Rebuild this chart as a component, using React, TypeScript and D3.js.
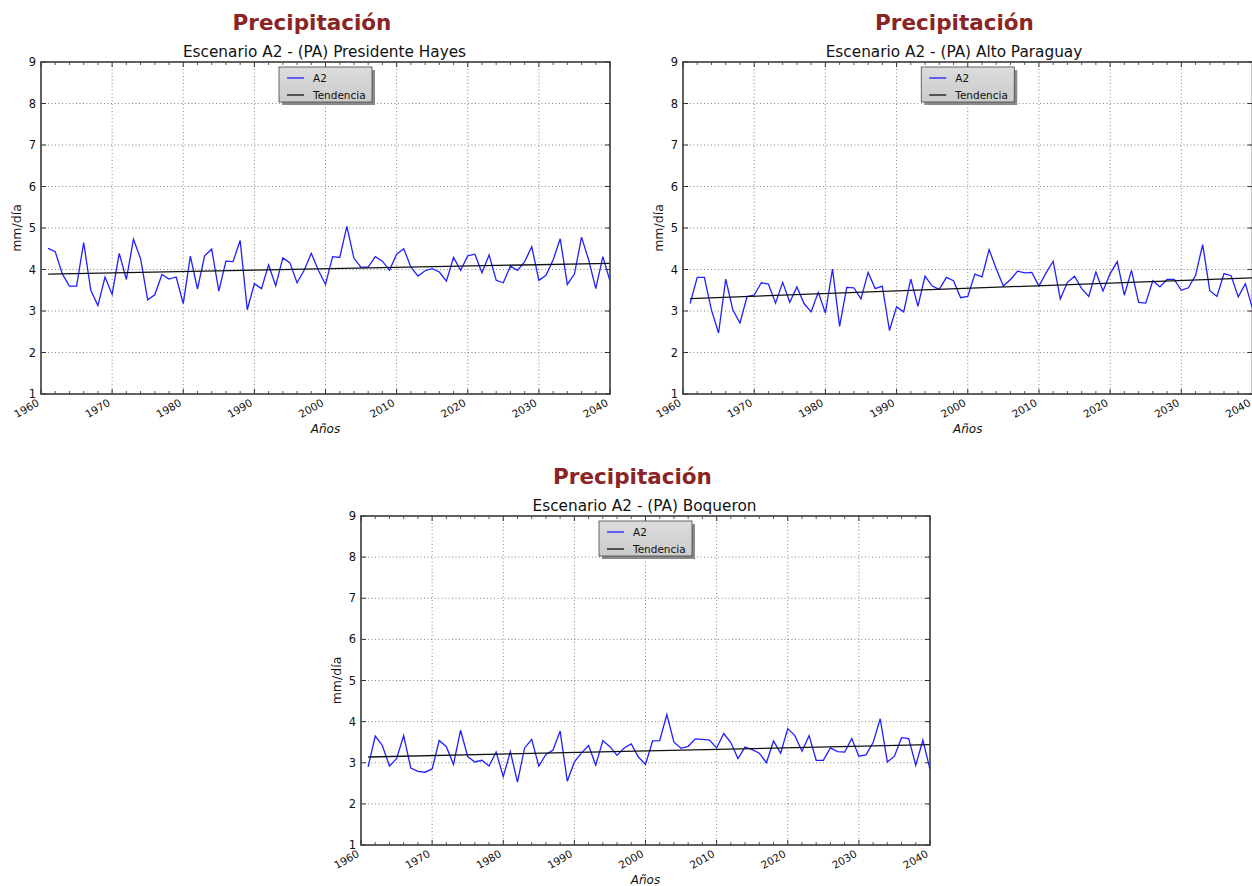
import React from "react";
import * as d3 from "d3";

const YEARS: number[] = d3.range(1961, 2041);
const X_TICKS = [1960, 1970, 1980, 1990, 2000, 2010, 2020, 2030, 2040];
const Y_TICKS = [1, 2, 3, 4, 5, 6, 7, 8, 9];

const hayes = [
  4.51, 4.43, 3.89, 3.6, 3.6, 4.65, 3.5, 3.13, 3.82, 3.4,
  4.39, 3.76, 4.73, 4.26, 3.27, 3.39, 3.88, 3.77, 3.82, 3.18,
  4.32, 3.53, 4.33, 4.49, 3.48, 4.2, 4.19, 4.7, 3.03, 3.66,
  3.54, 4.11, 3.61, 4.28, 4.16, 3.68, 3.98, 4.39, 3.98, 3.64,
  4.31, 4.29, 5.04, 4.27, 4.05, 4.06, 4.31, 4.2, 3.98, 4.37,
  4.5, 4.06, 3.84, 3.97, 4.02, 3.94, 3.72, 4.29, 3.98, 4.33,
  4.37, 3.92, 4.35, 3.74, 3.68, 4.08, 3.98, 4.19, 4.55, 3.74,
  3.86, 4.23, 4.74, 3.64, 3.89, 4.78, 4.23, 3.54, 4.31, 3.72,
];
const hayesTrend = [3.89, 4.15];

const altoParaguay = [
  3.18, 3.81, 3.81, 3.02, 2.47, 3.77, 3.03, 2.71, 3.35, 3.38,
  3.68, 3.65, 3.19, 3.69, 3.21, 3.58, 3.18, 2.98, 3.45, 2.95,
  4.01, 2.63, 3.57, 3.56, 3.29, 3.93, 3.54, 3.6, 2.53, 3.1,
  2.98, 3.77, 3.11, 3.84, 3.6, 3.52, 3.81, 3.73, 3.32, 3.35,
  3.89, 3.82, 4.48, 4.02, 3.6, 3.76, 3.96, 3.92, 3.93, 3.6,
  3.92, 4.2, 3.29, 3.69, 3.84, 3.54, 3.35, 3.94, 3.48, 3.9,
  4.19, 3.38, 3.98, 3.21, 3.19, 3.73, 3.58, 3.76, 3.76, 3.5,
  3.56, 3.86, 4.6, 3.49, 3.35, 3.9, 3.85, 3.34, 3.66, 3.06,
];
const altoParaguayTrend = [3.3, 3.8];

const boqueron = [
  2.9, 3.65, 3.42, 2.92, 3.1, 3.66, 2.87, 2.79, 2.77, 2.85,
  3.54, 3.39, 2.96, 3.79, 3.15, 3.02, 3.06, 2.92, 3.26, 2.66,
  3.27, 2.53, 3.36, 3.57, 2.92, 3.2, 3.31, 3.77, 2.55, 3.02,
  3.24, 3.42, 2.94, 3.54, 3.39, 3.18, 3.36, 3.46, 3.14, 2.96,
  3.53, 3.54, 4.17, 3.5, 3.35, 3.4, 3.58, 3.57, 3.55, 3.36,
  3.71, 3.49, 3.1, 3.38, 3.32, 3.23, 3.0, 3.53, 3.23, 3.83,
  3.66, 3.28, 3.66, 3.06, 3.06, 3.36, 3.27, 3.26, 3.59, 3.16,
  3.19, 3.49, 4.07, 3.02, 3.16, 3.61, 3.59, 2.94, 3.55, 2.84,
];
const boqueronTrend = [3.14, 3.44];

const TITLE = "Precipitación";
const SUB_FONT = "'DejaVu Sans', sans-serif";

type PanelProps = {
  left: number;
  right: number;
  top: number;
  bottom: number;
  titleX: number;
  subX: number;
  subtitle: string;
  values: number[];
  trend: number[];
  id: string;
};

function Panel(p: PanelProps) {
  const x = d3.scaleLinear().domain([1960, 2040]).range([p.left, p.right]);
  const y = d3.scaleLinear().domain([1, 9]).range([p.bottom, p.top]);
  const line = d3
    .line<number>()
    .x((_, i) => x(YEARS[i]))
    .y((v) => y(v));
  const trendLine = d3
    .line<number>()
    .x((_, i) => x(i === 0 ? YEARS[0] : YEARS[YEARS.length - 1]))
    .y((v) => y(v));
  const minor = d3.range(1960, 2041, 2).filter((v) => v % 10 !== 0);
  const cx = (p.left + p.right) / 2;
  const cy = (p.top + p.bottom) / 2;
  const lgW = 93;
  const lgH = 35;
  const lgX = cx - lgW / 2;
  const lgY = p.top + 5;
  return (
    <g>
      <defs>
        <clipPath id={"clip" + p.id}>
          <rect x={p.left} y={p.top} width={p.right - p.left} height={p.bottom - p.top} />
        </clipPath>
        <linearGradient id={"lg" + p.id} x1="0" y1="0" x2="0" y2="1">
          <stop offset="0" stopColor="#dcdcdc" />
          <stop offset="1" stopColor="#cbcbcb" />
        </linearGradient>
      </defs>
      <text
        x={p.titleX}
        y={p.top - 32}
        textAnchor="middle"
        fontFamily="'DejaVu Sans', sans-serif"
        fontWeight="bold"
        fontSize={21.5}
        fill="#8b2424"
      >
        {TITLE}
      </text>
      <text x={p.subX} y={p.top - 5.5} textAnchor="middle" fontFamily={SUB_FONT} fontSize={15.3} fill="#111">
        {p.subtitle}
      </text>
      {/* grid */}
      {X_TICKS.slice(1, -1).map((t) => (
        <line key={"gx" + t} x1={x(t)} x2={x(t)} y1={p.top} y2={p.bottom} stroke="#666" strokeWidth={0.8} strokeDasharray="1,2.5" />
      ))}
      {Y_TICKS.slice(1, -1).map((t) => (
        <line key={"gy" + t} x1={p.left} x2={p.right} y1={y(t)} y2={y(t)} stroke="#666" strokeWidth={0.8} strokeDasharray="1,2.5" />
      ))}
      {/* data */}
      <g clipPath={`url(#clip${p.id})`}>
        <path d={line(p.values) || ""} fill="none" stroke="#2020ff" strokeWidth={1.3} />
        <path d={trendLine(p.trend) || ""} fill="none" stroke="#111" strokeWidth={1.3} />
      </g>
      {/* ticks */}
      {X_TICKS.map((t) => (
        <g key={"tx" + t}>
          <line x1={x(t)} x2={x(t)} y1={p.bottom} y2={p.bottom - 5} stroke="#333" strokeWidth={1} />
          <line x1={x(t)} x2={x(t)} y1={p.top} y2={p.top + 5} stroke="#333" strokeWidth={1} />
        </g>
      ))}
      {minor.map((t) => (
        <g key={"mx" + t}>
          <line x1={x(t)} x2={x(t)} y1={p.bottom} y2={p.bottom - 3} stroke="#333" strokeWidth={0.8} />
          <line x1={x(t)} x2={x(t)} y1={p.top} y2={p.top + 3} stroke="#333" strokeWidth={0.8} />
        </g>
      ))}
      {Y_TICKS.map((t) => (
        <g key={"ty" + t}>
          <line x1={p.left} x2={p.left + 5} y1={y(t)} y2={y(t)} stroke="#333" strokeWidth={1} />
          <line x1={p.right} x2={p.right - 5} y1={y(t)} y2={y(t)} stroke="#333" strokeWidth={1} />
        </g>
      ))}
      {/* spines */}
      <rect x={p.left} y={p.top} width={p.right - p.left} height={p.bottom - p.top} fill="none" stroke="#3a3a3a" strokeWidth={1.6} />
      {/* tick labels */}
      {Y_TICKS.map((t) => (
        <text key={"ly" + t} x={p.left - 5} y={y(t) + 4} textAnchor="end" fontFamily={SUB_FONT} fontSize={11.5} fill="#111">
          {t}
        </text>
      ))}
      {X_TICKS.map((t) => (
        <text
          key={"lx" + t}
          transform={`translate(${x(t) - 1},${p.bottom + 11}) rotate(-30)`}
          textAnchor="end"
          fontFamily={SUB_FONT}
          fontSize={10.5}
          fill="#111"
        >
          {t}
        </text>
      ))}
      <text x={cx} y={p.bottom + 39} textAnchor="middle" fontFamily={SUB_FONT} fontStyle="italic" fontSize={12} fill="#111">
        Años
      </text>
      <text
        transform={`translate(${p.left - 20},${cy}) rotate(-90)`}
        textAnchor="middle"
        fontFamily={SUB_FONT}
        fontSize={12.5}
        fill="#111"
      >
        mm/día
      </text>
      {/* legend */}
      <rect x={lgX + 3} y={lgY + 3} width={lgW} height={lgH} fill="#8a8a8a" />
      <rect x={lgX} y={lgY} width={lgW} height={lgH} fill={`url(#lg${p.id})`} stroke="#444" strokeWidth={0.8} />
      <line x1={lgX + 8} x2={lgX + 25} y1={lgY + 11} y2={lgY + 11} stroke="#2020ff" strokeWidth={1.3} />
      <line x1={lgX + 8} x2={lgX + 25} y1={lgY + 28} y2={lgY + 28} stroke="#111" strokeWidth={1.3} />
      <text x={lgX + 34} y={lgY + 15} fontFamily={SUB_FONT} fontSize={10.5} fill="#111">
        A2
      </text>
      <text x={lgX + 34} y={lgY + 32} fontFamily={SUB_FONT} fontSize={10.5} fill="#111">
        Tendencia
      </text>
    </g>
  );
}

export default function App() {
  return (
    <svg width={1252} height={886} style={{ position: "absolute", left: 0, top: 0, background: "#fff" }}>
      <rect width={1252} height={886} fill="#fff" />
      <Panel
        id="a"
        left={41}
        right={610}
        top={62}
        bottom={394}
        titleX={312}
        subX={324.5}
        subtitle="Escenario A2 - (PA) Presidente Hayes"
        values={hayes}
        trend={hayesTrend}
      />
      <Panel
        id="b"
        left={683}
        right={1252.5}
        top={62}
        bottom={394}
        titleX={954.5}
        subX={954}
        subtitle="Escenario A2 - (PA) Alto Paraguay"
        values={altoParaguay}
        trend={altoParaguayTrend}
      />
      <Panel
        id="c"
        left={361}
        right={930}
        top={516}
        bottom={845}
        titleX={632.5}
        subX={644.5}
        subtitle="Escenario A2 - (PA) Boqueron"
        values={boqueron}
        trend={boqueronTrend}
      />
    </svg>
  );
}
